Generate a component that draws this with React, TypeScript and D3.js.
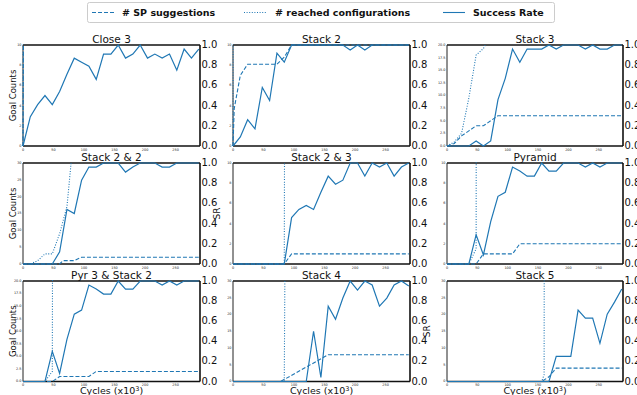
import React from 'react';
import * as d3 from 'd3';

// Training cycles (x10^3) at which success rate and suggestions were logged
const CYCLES = [0, 12, 24, 36, 48, 60, 72, 84, 96, 108, 120, 132, 144, 156, 168, 180, 192, 204, 216, 228, 240, 252, 264, 276, 288];
const X_TICKS = [0, 50, 100, 150, 200, 250];
const SR_TICKS = [0, 0.2, 0.4, 0.6, 0.8, 1.0];
const GOAL_TICKS_10 = [0, 2, 4, 6, 8, 10];
const GOAL_TICKS_20 = [0, 2.5, 5, 7.5, 10, 12.5, 15, 17.5, 20];
const GOAL_TICKS_30 = [0, 5, 10, 15, 20, 25, 30];

// Success rate per task (one value per logged cycle)
const close3SR = [0, 0.29, 0.41, 0.5, 0.41, 0.54, 0.71, 0.87, 0.83, 0.79, 0.66, 0.91, 0.91, 1, 0.87, 0.91, 1, 0.87, 0.91, 0.87, 0.91, 0.75, 0.96, 0.87, 0.96];
const stack2SR = [0, 0.09, 0.26, 0.17, 0.58, 0.45, 0.92, 0.83, 1, 1, 1, 1, 1, 1, 1, 1, 0.95, 1, 0.95, 1, 1, 1, 1, 1, 1];
const stack3SR = [0, 0, 0, 0, 0.05, 0, 0.05, 0.46, 0.67, 0.96, 0.83, 0.96, 0.96, 0.96, 1, 0.96, 1, 1, 1, 0.96, 1, 0.96, 0.96, 1, 1];
const stack22SR = [0, 0, 0, 0, 0, 0.12, 0.54, 0.5, 0.83, 0.96, 0.96, 1, 1, 1, 0.91, 0.96, 1, 1, 1, 0.96, 0.96, 1, 1, 1, 1];
const stack23SR = [0, 0, 0, 0, 0, 0, 0, 0, 0.46, 0.54, 0.58, 0.54, 0.71, 0.87, 0.79, 0.83, 1, 1, 0.87, 1, 0.96, 1, 0.87, 0.96, 1];
const pyramidSR = [0, 0, 0, 0, 0.29, 0.09, 0.42, 0.67, 0.71, 0.96, 0.92, 0.87, 0.87, 1, 0.92, 0.92, 1, 1, 1, 0.96, 1, 0.96, 1, 1, 1];
const pyr3Stack2SR = [0, 0, 0, 0, 0.3, 0.08, 0.42, 0.67, 0.71, 0.96, 0.92, 0.87, 0.87, 1, 0.92, 0.92, 1, 1, 1, 0.96, 1, 0.96, 1, 1, 1];
const stack4SR = [0, 0, 0, 0, 0, 0, 0, 0, 0, 0, 0, 0.5, 0.04, 0.75, 0.62, 0.83, 1, 0.91, 1, 0.96, 0.75, 0.83, 0.96, 1, 0.95];
const stack5SR = [0, 0, 0, 0, 0, 0, 0, 0, 0, 0, 0, 0, 0, 0, 0, 0.25, 0.25, 0.25, 0.71, 0.63, 0.63, 0.38, 0.67, 0.79, 0.92];

// Number of SP suggestions, as [cycle, count]
const close3SP: [number, number][] = [[0, 0], [1, 14]];
const stack2SP: [number, number][] = [[0, 0], [2, 3.7], [12, 7], [24, 8.1], [72, 8.1], [84, 8.8], [96, 10], [288, 10]];
const stack3SP: [number, number][] = [[0, 0], [12, 0.5], [24, 2], [36, 3], [48, 4], [60, 4], [72, 5], [84, 6], [288, 6]];
const stack22SP: [number, number][] = [[0, 0], [60, 0], [66, 1], [84, 1], [96, 2], [288, 2]];
const stack23SP: [number, number][] = [[0, 0], [84, 0], [96, 1], [288, 1]];
const pyramidSP: [number, number][] = [[0, 0], [48, 0], [60, 1], [108, 1], [120, 2], [288, 2]];
const pyr3Stack2SP: [number, number][] = [[0, 0], [48, 0], [60, 1], [108, 1], [120, 2], [288, 2]];
const stack4SP: [number, number][] = [[0, 0], [78, 0], [156, 8], [288, 8]];
const stack5SP: [number, number][] = [[0, 0], [156, 0], [168, 1.4], [180, 4], [288, 4]];

// Number of reached configurations, as [cycle, count]
const close3Reached: [number, number][] = [[0, 0], [1, 40]];
const stack2Reached: [number, number][] = [[0, 0], [1, 40]];
const stack3Reached: [number, number][] = [[0, 0], [12, 0.8], [24, 2.5], [36, 9.5], [48, 18], [60, 19.3], [72, 22], [84, 40]];
const stack22Reached: [number, number][] = [[0, 0], [12, 0], [24, 1], [36, 3], [48, 3], [60, 9], [72, 17], [84, 40]];
const stack23Reached: [number, number][] = [[0, 0], [84, 0], [85.5, 40]];
const pyramidReached: [number, number][] = [[0, 0], [36, 0], [48, 1.5], [48.5, 40]];
const pyr3Stack2Reached: [number, number][] = [[0, 0], [36, 0], [48, 2], [49, 60]];
const stack4Reached: [number, number][] = [[0, 0], [84, 0], [86.5, 80]];
const stack5Reached: [number, number][] = [[0, 0], [156, 0], [160, 2], [160.5, 80]];

const TITLES = ['Close 3', 'Stack 2', 'Stack 3', 'Stack 2 & 2', 'Stack 2 & 3', 'Pyramid', 'Pyr 3 & Stack 2', 'Stack 4', 'Stack 5'];

const COLOR = '#1f77b4';
const FONT = '"DejaVu Sans", sans-serif';
const X_MAX = 290;
const COL_X: [number, number][] = [[23, 200], [233, 410], [447, 623]];
const ROW_Y: [number, number][] = [[45, 146], [163, 264], [281, 381.5]];

interface PanelSpec {
  title: string;
  sr: number[];
  sp: [number, number][];
  reached: [number, number][];
  goalTicks: number[];
  goalDigits: number;
  goalLabel: boolean;
  srLabel: boolean;
  xLabel: boolean;
}

const PANELS: PanelSpec[] = [
  { title: TITLES[0], sr: close3SR, sp: close3SP, reached: close3Reached, goalTicks: GOAL_TICKS_10, goalDigits: 0, goalLabel: true, srLabel: false, xLabel: false },
  { title: TITLES[1], sr: stack2SR, sp: stack2SP, reached: stack2Reached, goalTicks: GOAL_TICKS_10, goalDigits: 0, goalLabel: false, srLabel: false, xLabel: false },
  { title: TITLES[2], sr: stack3SR, sp: stack3SP, reached: stack3Reached, goalTicks: GOAL_TICKS_20, goalDigits: 1, goalLabel: false, srLabel: false, xLabel: false },
  { title: TITLES[3], sr: stack22SR, sp: stack22SP, reached: stack22Reached, goalTicks: GOAL_TICKS_30, goalDigits: 0, goalLabel: true, srLabel: true, xLabel: false },
  { title: TITLES[4], sr: stack23SR, sp: stack23SP, reached: stack23Reached, goalTicks: GOAL_TICKS_10, goalDigits: 0, goalLabel: false, srLabel: false, xLabel: false },
  { title: TITLES[5], sr: pyramidSR, sp: pyramidSP, reached: pyramidReached, goalTicks: GOAL_TICKS_10, goalDigits: 0, goalLabel: false, srLabel: false, xLabel: false },
  { title: TITLES[6], sr: pyr3Stack2SR, sp: pyr3Stack2SP, reached: pyr3Stack2Reached, goalTicks: GOAL_TICKS_20, goalDigits: 1, goalLabel: true, srLabel: false, xLabel: true },
  { title: TITLES[7], sr: stack4SR, sp: stack4SP, reached: stack4Reached, goalTicks: GOAL_TICKS_30, goalDigits: 0, goalLabel: false, srLabel: true, xLabel: true },
  { title: TITLES[8], sr: stack5SR, sp: stack5SP, reached: stack5Reached, goalTicks: GOAL_TICKS_30, goalDigits: 0, goalLabel: false, srLabel: false, xLabel: true },
];

function Panel({ spec, index }: { spec: PanelSpec; index: number }) {
  const [x0, x1] = COL_X[index % 3];
  const [y0, y1] = ROW_Y[Math.floor(index / 3)];
  const goalMax = spec.goalTicks[spec.goalTicks.length - 1];
  const x = d3.scaleLinear().domain([0, X_MAX]).range([x0, x1]);
  const yGoal = d3.scaleLinear().domain([0, goalMax]).range([y1, y0]);
  const ySR = d3.scaleLinear().domain([0, 1]).range([y1, y0]);

  const pairLine = d3.line<[number, number]>().x((d) => x(d[0])).y((d) => yGoal(d[1]));
  const srLine = d3.line<number>().x((_, i) => x(CYCLES[i])).y((d) => ySR(d));
  const clipId = `clip-${index}`;
  const fmtGoal = d3.format(spec.goalDigits ? '.1f' : 'd');

  return (
    <g>
      <defs>
        <clipPath id={clipId}>
          <rect x={x0 - 1} y={y0 - 1} width={x1 - x0 + 2} height={y1 - y0 + 2} />
        </clipPath>
      </defs>
      <rect x={x0} y={y0} width={x1 - x0} height={y1 - y0} fill="white" />
      {/* frame */}
      <line x1={x0} x2={x1} y1={y0} y2={y0} stroke="#111" strokeWidth={1.6} />
      <line x1={x1} x2={x1} y1={y0} y2={y1} stroke="#111" strokeWidth={1.6} />
      <line x1={x0} x2={x1} y1={y1} y2={y1} stroke="#111" strokeWidth={1.6} />
      <line x1={x0} x2={x0} y1={y0} y2={y1} stroke="#222" strokeWidth={1} />
      <g clipPath={`url(#${clipId})`} fill="none" stroke={COLOR}>
        <path d={pairLine(spec.reached) ?? ''} strokeWidth={1.1} strokeDasharray="1,1.6" />
        <path d={pairLine(spec.sp) ?? ''} strokeWidth={1.1} strokeDasharray="4,2" />
        <path d={srLine(spec.sr) ?? ''} strokeWidth={1.2} />
      </g>
      {/* left goal count ticks */}
      {spec.goalTicks.map((t) => (
        <text key={`g${t}`} x={x0 - 1.5} y={yGoal(t)} fontSize={3.4} textAnchor="end" dominantBaseline="middle" fill="#222" fontFamily={FONT}>
          {fmtGoal(t)}
        </text>
      ))}
      {/* bottom cycle ticks */}
      {X_TICKS.map((t) => (
        <text key={`x${t}`} x={x(t)} y={y1 + 3.8} fontSize={3.4} textAnchor="middle" dominantBaseline="middle" fill="#222" fontFamily={FONT}>
          {t}
        </text>
      ))}
      {/* right success-rate ticks */}
      {SR_TICKS.map((t) => (
        <text key={`s${t}`} x={x1 + 1.5} y={ySR(t)} fontSize={10} textAnchor="start" dominantBaseline="middle" fill="#111" fontFamily={FONT}>
          {t.toFixed(1)}
        </text>
      ))}
      <text x={(x0 + x1) / 2} y={y0 - 2} fontSize={10.5} textAnchor="middle" fill="#111" fontFamily={FONT}>
        {spec.title}
      </text>
      {spec.goalLabel && (
        <text transform={`translate(16,${(y0 + y1) / 2}) rotate(-90)`} fontSize={8.5} textAnchor="middle" fill="#111" fontFamily={FONT}>
          Goal Counts
        </text>
      )}
      {spec.srLabel && (
        <text transform={`translate(${x1 + 20},${(y0 + y1) / 2}) rotate(-90)`} fontSize={9} textAnchor="middle" fill="#111" fontFamily={FONT}>
          SR
        </text>
      )}
      {spec.xLabel && (
        <text x={(x0 + x1) / 2} y={y1 + 12.8} fontSize={9.5} textAnchor="middle" fill="#111" fontFamily={FONT}>
          Cycles (x10<tspan dy={-3} fontSize={6.5}>3</tspan><tspan dy={3}>)</tspan>
        </text>
      )}
    </g>
  );
}

function Legend() {
  const items = [
    { label: '# SP suggestions', dash: '4,2', hx: 92, tx: 122 },
    { label: '# reached configurations', dash: '1,1.6', hx: 244, tx: 275 },
    { label: 'Success Rate', dash: undefined, hx: 443, tx: 473 },
  ];
  return (
    <g>
      <rect x={87.5} y={2.5} width={467} height={20} rx={2} fill="white" stroke="#cccccc" strokeWidth={1} />
      {items.map((it) => (
        <g key={it.label}>
          <line x1={it.hx} x2={it.hx + 22} y1={12.5} y2={12.5} stroke={COLOR} strokeWidth={1.1} strokeDasharray={it.dash} />
          <text x={it.tx} y={16} fontSize={9.5} fontWeight="bold" fill="#111" fontFamily={FONT}>
            {it.label}
          </text>
        </g>
      ))}
    </g>
  );
}

export default function App() {
  return (
    <svg width={637} height={395} style={{ position: 'absolute', left: 0, top: 0, background: 'white' }}>
      <rect x={0} y={0} width={637} height={395} fill="white" />
      {PANELS.map((p, i) => (
        <Panel key={p.title} spec={p} index={i} />
      ))}
      <Legend />
    </svg>
  );
}
